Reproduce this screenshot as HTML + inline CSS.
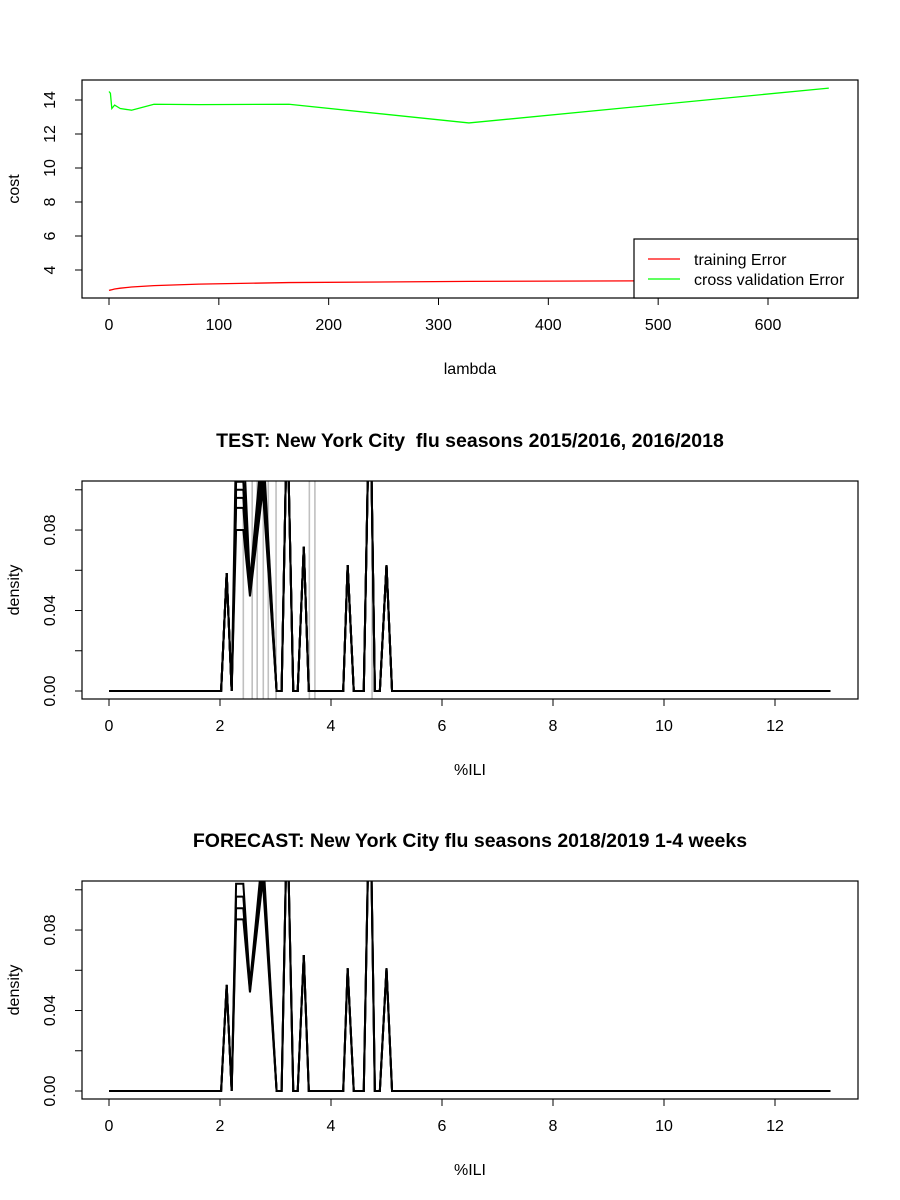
<!DOCTYPE html>
<html><head><meta charset="utf-8">
<style>
html,body{margin:0;padding:0;background:#fff;}
svg{display:block;font-family:"Liberation Sans",Arial,sans-serif;}
text{white-space:pre;}
</style></head>
<body>
<svg id="chart" width="900" height="1200" viewBox="0 0 900 1200" xmlns="http://www.w3.org/2000/svg"></svg>
<script>
// ---- Panel 1 data ----
const lambdas = [0, 1.28, 2.56, 5.12, 10.24, 20.48, 40.96, 81.92, 163.84, 327.68, 655.36];
const trainErr = [2.8, 2.82, 2.84, 2.88, 2.93, 3.0, 3.08, 3.17, 3.26, 3.33, 3.4];
const cvErr = [14.5, 14.4, 13.5, 13.7, 13.5, 13.4, 13.75, 13.73, 13.75, 12.65, 14.7];
const p1XTicks = [0, 100, 200, 300, 400, 500, 600];
const p1YTicks = [4, 6, 8, 10, 12, 14];

// ---- Panel 2/3 shared x grid (%ILI) ----
const iliX = [0, 2.02, 2.12, 2.21, 2.29, 2.42, 2.54, 2.77, 3.02, 3.11, 3.21, 3.32, 3.40, 3.51, 3.60, 4.22, 4.30, 4.41, 4.59, 4.70, 4.79, 4.88, 5.0, 5.10, 13];
// Panel 2 curves
const testPlateau = [0.125, 0.104, 0.100, 0.096, 0.091, 0.080];
const testDip = [0.054, 0.053, 0.052, 0.050, 0.049, 0.047];
const testPeak2 = [0.125, 0.12, 0.115, 0.11, 0.105, 0.10];
const testSmall = [0.0586, 0.0717, 0.0626, 0.0626];
const testGray = [2.42, 2.58, 2.67, 2.78, 2.87, 3.01, 3.61, 3.71, 4.74];
// Panel 3 curves
const fcPlateau = [0.103, 0.0966, 0.0908, 0.0853];
const fcDip = [0.053, 0.052, 0.050, 0.049];
const fcPeak2 = [0.12, 0.115, 0.11, 0.105];
const fcSmall = [0.0527, 0.0676, 0.061, 0.061];
const iliXTicks = [0, 2, 4, 6, 8, 10, 12];
const densTicks = [0, 0.02, 0.04, 0.06, 0.08, 0.10];
const densLabels = ["0.00", "", "0.04", "", "0.08", ""];

const NS = "http://www.w3.org/2000/svg";
const svg = document.getElementById("chart");
const FS = 16;
function mk(tag, attrs, parent, text) {
  const e = document.createElementNS(NS, tag);
  for (const k in attrs) e.setAttribute(k, attrs[k]);
  if (text !== undefined) e.textContent = text;
  (parent || svg).appendChild(e);
  return e;
}

function makeAxes(g, box, xs, xTicks, xLabels, yTicks, yLabels, xTitle, yTitle, title) {
  const r = mk("rect", {x: box.l, y: box.t, width: box.r - box.l, height: box.b - box.t, fill: "none", stroke: "#000", "stroke-width": 1.2}, g);
  
  
  const xa = mk("g", {}, g);
  
  
  mk("line", {x1: xs.x(xTicks[0]), x2: xs.x(xTicks[xTicks.length - 1]), y1: box.b, y2: box.b, stroke: "#000"}, xa);
  xTicks.forEach((v, i) => {
    mk("line", {x1: xs.x(v), x2: xs.x(v), y1: box.b, y2: box.b + 7, stroke: "#000"}, xa);
    const t = mk("text", {x: xs.x(v), y: box.b + 32, "text-anchor": "middle", "font-size": FS}, xa, xLabels[i]);
    
    
  });
  const ya = mk("g", {}, g);
  
  
  mk("line", {x1: box.l, x2: box.l, y1: xs.y(yTicks[0]), y2: xs.y(yTicks[yTicks.length - 1]), stroke: "#000"}, ya);
  yTicks.forEach((v, i) => {
    mk("line", {x1: box.l - 7, x2: box.l, y1: xs.y(v), y2: xs.y(v), stroke: "#000"}, ya);
    if (yLabels[i]) {
      const t = mk("text", {x: 0, y: 0, "text-anchor": "middle", "font-size": FS, transform: `translate(${box.l - 27},${xs.y(v)}) rotate(-90)`}, ya, yLabels[i]);
      
      
    }
  });
  const xt = mk("text", {x: (box.l + box.r) / 2, y: box.b + 76, "text-anchor": "middle", "font-size": FS}, g, xTitle);
  
  
  const yt = mk("text", {x: 0, y: 0, "text-anchor": "middle", "font-size": FS, transform: `translate(19,${(box.t + box.b) / 2}) rotate(-90)`}, g, yTitle);
  
  
  if (title) {
    const tt = mk("text", {x: (box.l + box.r) / 2, y: box.t - 34, "text-anchor": "middle", "font-size": 19.5, "font-weight": "bold"}, g, title);
    
    
  }
}

// ---- Panel 1 ----
(function () {
  const box = {l: 82, r: 858, t: 80, b: 298};
  const sc = {x: v => 109 + v * (768 - 109) / 600, y: v => 270 - (v - 4) * 17};
  const g = mk("g", {});
  
  
  makeAxes(g, box, sc, p1XTicks, p1XTicks.map(String), p1YTicks, p1YTicks.map(String), "lambda", "cost", null);
  const tr = mk("polyline", {points: lambdas.map((l, i) => sc.x(l) + "," + sc.y(trainErr[i])).join(" "), fill: "none", stroke: "#ff0000", "stroke-width": 1.3}, g);
  
  
  const cv = mk("polyline", {points: lambdas.map((l, i) => sc.x(l) + "," + sc.y(cvErr[i])).join(" "), fill: "none", stroke: "#00ff00", "stroke-width": 1.3}, g);
  
  
  const lg = mk("g", {}, g);
  
  
  mk("rect", {x: 634, y: 239, width: 224, height: 59, fill: "#fff", stroke: "#000", "stroke-width": 1.2}, lg);
  const e1 = mk("g", {}, lg);
  
  
  mk("line", {x1: 648, x2: 680, y1: 259, y2: 259, stroke: "#ff0000", "stroke-width": 1.3}, e1);
  mk("text", {x: 694, y: 265, "font-size": 16}, e1, "training Error");
  const e2 = mk("g", {}, lg);
  
  
  mk("line", {x1: 648, x2: 680, y1: 279, y2: 279, stroke: "#00ff00", "stroke-width": 1.3}, e2);
  mk("text", {x: 694, y: 285, "font-size": 16}, e2, "cross validation Error");
})();

function densityPanel(name, box, y0, title, plateau, dip, peak2, small, gray) {
  const sc = {x: v => 109 + v * 55.5, y: v => y0 - v * 2012};
  const g = mk("g", {});
  
  
  const cid = name + "-clip";
  const cp = mk("clipPath", {id: cid}, g);
  mk("rect", {x: box.l, y: box.t, width: box.r - box.l, height: box.b - box.t}, cp);
  const lines = mk("g", {"clip-path": `url(#${cid})`}, g);
  gray.forEach(v => {
    const l = mk("line", {x1: sc.x(v), x2: sc.x(v), y1: box.t, y2: box.b, stroke: "#c0c0c0", "stroke-width": 1.6}, lines);
    
    
  });
  for (let k = 0; k < plateau.length; k++) {
    const ys = [0, 0, small[0], 0, plateau[k], plateau[k], dip[k], peak2[k], 0, 0, 0.14, 0, 0, small[1], 0, 0, small[2], 0, 0, 0.16, 0, 0, small[3], 0, 0];
    const p = mk("polyline", {points: iliX.map((x, i) => sc.x(x) + "," + sc.y(ys[i])).join(" "), fill: "none", stroke: "#000", "stroke-width": 2, "stroke-linejoin": "miter"}, lines);
    
    
  }
  makeAxes(g, box, sc, iliXTicks, iliXTicks.map(String), densTicks, densLabels, "%ILI", "density", title);
}
densityPanel("test-density-panel", {l: 82, r: 858, t: 481, b: 699}, 691, "TEST: New York City  flu seasons 2015/2016, 2016/2018", testPlateau, testDip, testPeak2, testSmall, testGray);
densityPanel("forecast-density-panel", {l: 82, r: 858, t: 881, b: 1099}, 1091, "FORECAST: New York City flu seasons 2018/2019 1-4 weeks", fcPlateau, fcDip, fcPeak2, fcSmall, []);
</script>
</body></html>
